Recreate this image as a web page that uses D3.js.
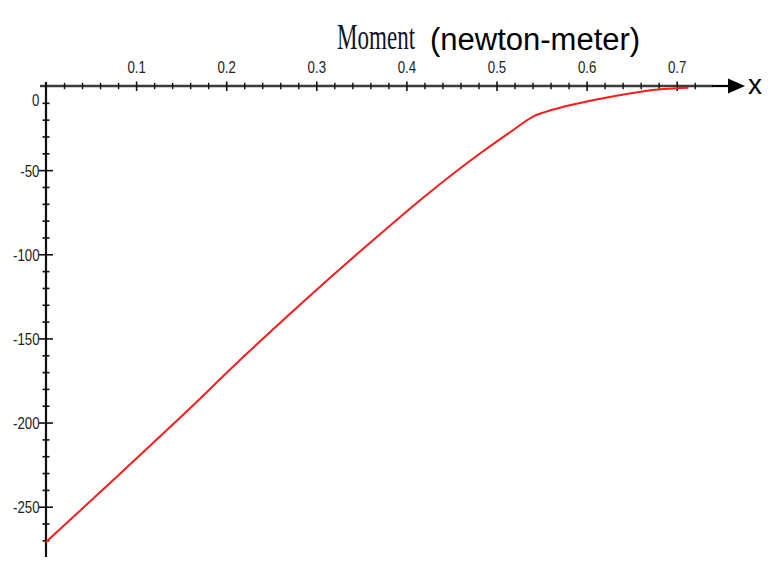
<!DOCTYPE html>
<html>
<head>
<meta charset="utf-8">
<script src="https://cdn.jsdelivr.net/npm/d3@7"></script>
<style>
  html, body { margin: 0; padding: 0; background: #fff; }
  svg { display: block; }
</style>
</head>
<body>
<svg id="chart" width="769" height="561"></svg>
<script>
// Bending moment along the beam (x in metres, moment in newton-metres)
const positions = [0, 0.075, 0.149, 0.223, 0.288, 0.36, 0.424, 0.482, 0.519, 0.541, 0.563, 0.604, 0.641, 0.66, 0.685, 0.713];
const moments   = [-271, -234, -197, -159, -127, -93, -64, -40, -26, -18, -14, -8.8, -5, -3.4, -1.8, -1];

const xMajorTicks = [0.1, 0.2, 0.3, 0.4, 0.5, 0.6, 0.7];
const xTickLabels = ["0.1", "0.2", "0.3", "0.4", "0.5", "0.6", "0.7"];
const yMajorTicks = [-50, -100, -150, -200, -250];
const yTickLabels = ["-50", "-100", "-150", "-200", "-250"];

const svg = d3.select("#chart");

const x = d3.scaleLinear().domain([0, 0.7]).range([46, 676.7]);
const y = d3.scaleLinear().domain([0, -250]).range([86, 506.7]);

const tickFont = "'Liberation Sans', Arial, sans-serif";
const narrow = 0.78;
const tickSize = 17;

// minor ticks every 0.02 along x and every 10 along y
const xMinor = d3.range(1, 37).map(i => +(i * 0.02).toFixed(2)).filter(v => Math.abs(v * 10 - Math.round(v * 10)) > 1e-6);
const yMinor = d3.range(1, 28).map(i => -i * 10).filter(v => v % 50 !== 0);

// x axis line, then black arrow
svg.append("line")
  .attr("x1", 40).attr("x2", 713).attr("y1", y(0)).attr("y2", y(0))
  .attr("stroke", "#3a3a3a").attr("stroke-width", 2.6);
svg.append("line")
  .attr("x1", 712).attr("x2", 730).attr("y1", y(0)).attr("y2", y(0))
  .attr("stroke", "#000").attr("stroke-width", 2.2);
svg.append("path")
  .attr("d", `M728,${y(0) - 7.5} L745,${y(0)} L728,${y(0) + 7.5} Z`)
  .attr("fill", "#000");

// y axis line
svg.append("line")
  .attr("x1", x(0)).attr("x2", x(0)).attr("y1", 82).attr("y2", 557)
  .attr("stroke", "#111").attr("stroke-width", 2.2);

// x minor ticks
const gxMinor = svg.append("g")
  .attr("transform", `translate(0,${y(0)})`)
  .call(d3.axisTop(x).tickValues(xMinor).tickSize(0).tickFormat(""));
gxMinor.select(".domain").remove();
gxMinor.selectAll(".tick line").attr("y1", -3.2).attr("y2", 3.2)
  .attr("stroke", "#111").attr("stroke-width", 1.4);

// x major ticks and labels
const gx = svg.append("g")
  .attr("transform", `translate(0,${y(0)})`)
  .call(d3.axisTop(x).tickValues(xMajorTicks).tickSize(0)
    .tickFormat((d, i) => xTickLabels[i]));
gx.select(".domain").remove();
gx.selectAll(".tick line").attr("y1", -4.5).attr("y2", 5)
  .attr("stroke", "#111").attr("stroke-width", 1.6);
gx.selectAll(".tick text")
  .attr("y", -13).attr("dy", null)
  .attr("transform", `scale(${narrow},1)`)
  .attr("font-family", tickFont).attr("font-size", tickSize)
  .attr("fill", "#222");

// y minor ticks
const gyMinor = svg.append("g")
  .attr("transform", `translate(${x(0)},0)`)
  .call(d3.axisLeft(y).tickValues(yMinor).tickSize(0).tickFormat(""));
gyMinor.select(".domain").remove();
gyMinor.selectAll(".tick line").attr("x1", -3.5).attr("x2", 3.5)
  .attr("stroke", "#111").attr("stroke-width", 1.6);

// y major ticks and labels
const gy = svg.append("g")
  .attr("transform", `translate(${x(0)},0)`)
  .call(d3.axisLeft(y).tickValues(yMajorTicks).tickSize(0)
    .tickFormat((d, i) => yTickLabels[i]));
gy.select(".domain").remove();
gy.selectAll(".tick line").attr("x1", -7).attr("x2", 7)
  .attr("stroke", "#111").attr("stroke-width", 1.6);
gy.selectAll(".tick text")
  .attr("x", -6.5 / narrow).attr("dy", "0.35em")
  .attr("transform", `scale(${narrow},1)`)
  .attr("font-family", tickFont).attr("font-size", tickSize)
  .attr("fill", "#222");

// the zero label sits just below the x axis
svg.append("text")
  .attr("transform", `translate(${x(0) - 6.5},100) scale(${narrow},1)`)
  .attr("text-anchor", "end").attr("dy", "0.35em")
  .attr("font-family", tickFont).attr("font-size", tickSize)
  .attr("fill", "#222")
  .text("0");

// moment curve
const line = d3.line()
  .x((d, i) => x(positions[i]))
  .y(d => y(d))
  .curve(d3.curveMonotoneX);
svg.append("path")
  .attr("d", line(moments))
  .attr("fill", "none")
  .attr("stroke", "#ff1a1a")
  .attr("stroke-width", 2);

// titles
svg.append("text")
  .attr("transform", "translate(337,49) scale(0.64,1)")
  .attr("font-family", "'Liberation Serif', 'Times New Roman', serif")
  .attr("font-size", 36).attr("fill", "#14142a")
  .text("Moment");
svg.append("text")
  .attr("x", 430).attr("y", 50)
  .attr("font-family", "'Liberation Sans', Arial, sans-serif")
  .attr("font-size", 31).attr("fill", "#000")
  .text("(newton-meter)");
svg.append("text")
  .attr("x", 748).attr("y", 94)
  .attr("font-family", "'Liberation Sans', Arial, sans-serif")
  .attr("font-size", 28).attr("fill", "#000")
  .text("x");
</script>
</body>
</html>
